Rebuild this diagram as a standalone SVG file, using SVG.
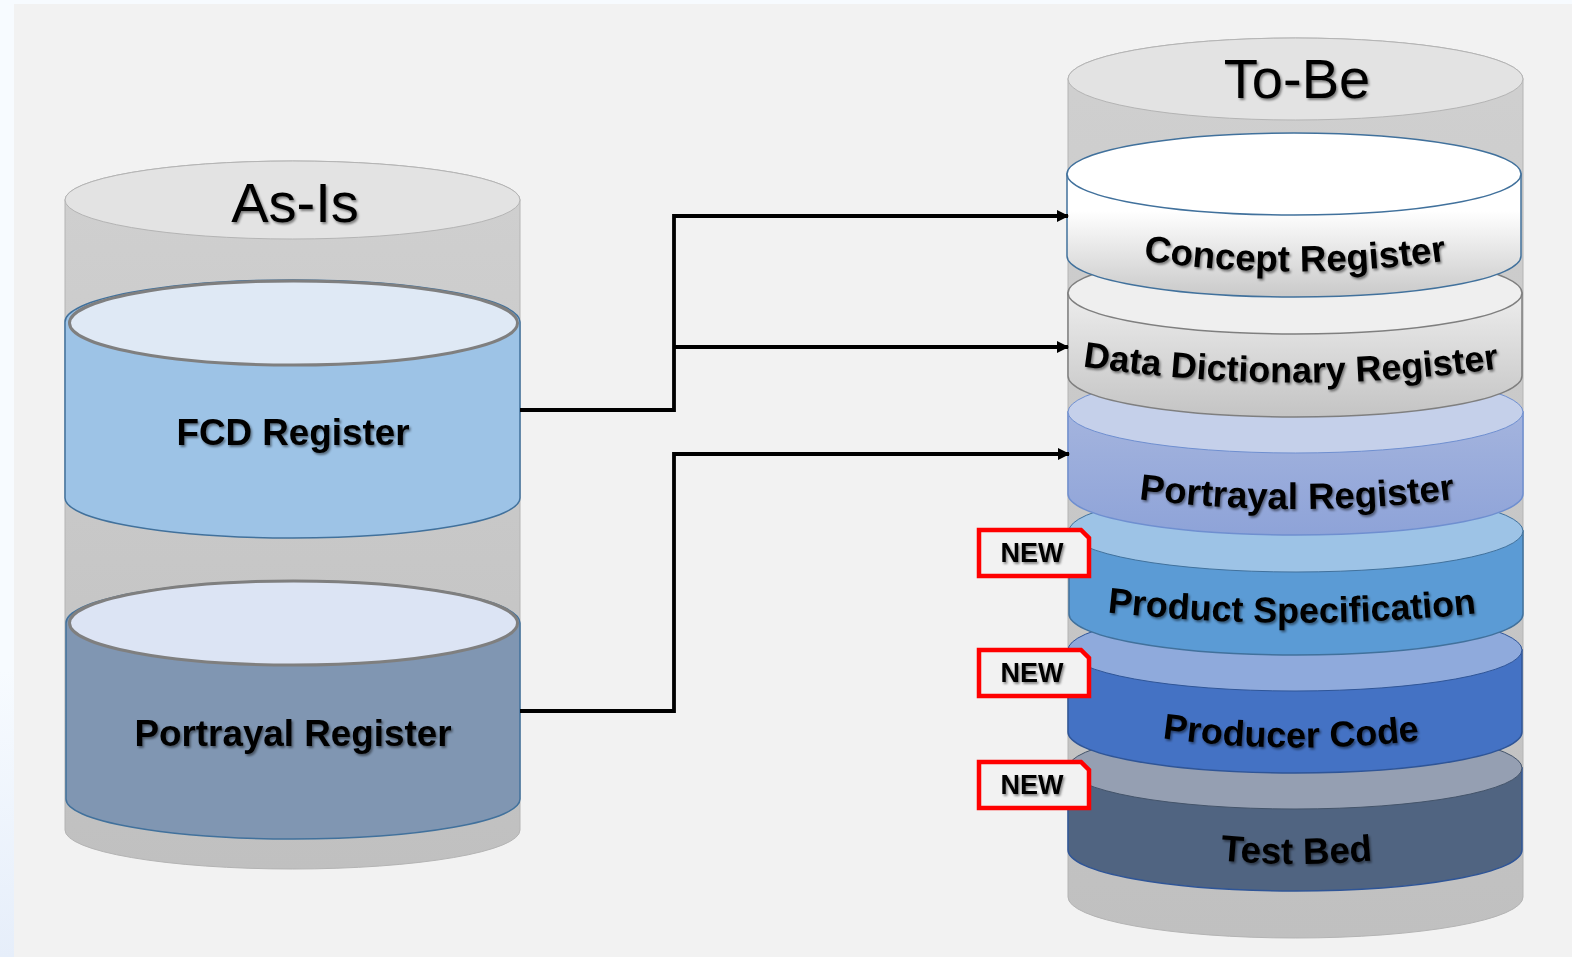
<svg xmlns="http://www.w3.org/2000/svg" width="1572" height="957" viewBox="0 0 1572 957">
<style>
.t{font-family:"Liberation Sans",Arial,sans-serif;fill:#000}
.lab{font-size:36.800px;font-weight:700;text-anchor:middle;filter:url(#sh)}
.lab2{font-size:36px}
.title{font-size:56px;text-anchor:middle;filter:url(#sh)}
.new{font-size:27px;font-weight:700;text-anchor:middle;filter:url(#sh)}
.tag{fill:#f2f2f2;stroke:#f00;stroke-width:4.5}
.outer{fill:url(#go);stroke:#b4b4b4;stroke-width:1}
.conn{fill:none;stroke:#000;stroke-width:3.8}
</style>
<defs>
<linearGradient id="bg" x1="0" y1="0" x2="0" y2="1"><stop offset="0.7" stop-color="#f7fbff"/><stop offset="1" stop-color="#e6eefa"/></linearGradient>
<linearGradient id="go" x1="0" y1="0" x2="0" y2="1"><stop offset="0" stop-color="#d0d0d0"/><stop offset="1" stop-color="#c0c0c0"/></linearGradient>
<linearGradient id="g1" x1="0" y1="0" x2="0" y2="1"><stop offset="0.3" stop-color="#fff"/><stop offset="1" stop-color="#c9c9c9"/></linearGradient>
<linearGradient id="g2" x1="0" y1="0" x2="0" y2="1"><stop offset="0" stop-color="#ededed"/><stop offset="1" stop-color="#c4c4c4"/></linearGradient>
<linearGradient id="g3" x1="0" y1="0" x2="0" y2="1"><stop offset="0" stop-color="#a4b4de"/><stop offset="1" stop-color="#8ea3d8"/></linearGradient>
<filter id="sh" x="-10%" y="-20%" width="120%" height="150%"><feDropShadow dx="1.500" dy="2" stdDeviation="1.200" flood-color="#000" flood-opacity="0.45"/></filter>
<marker id="ah" markerWidth="12" markerHeight="12" refX="11" refY="6" orient="auto" markerUnits="userSpaceOnUse"><path d="M0 0L12 6L0 12z" fill="#000"/></marker>
<path id="p1" d="M1140 260Q1296 283 1450 260"/>
<path id="p2" d="M1080 366Q1295 398 1502 368"/>
<path id="p3" d="M1138 499Q1296 519 1456 499"/>
<path id="p4" d="M1104 612Q1292 633 1480 613"/>
<path id="p5" d="M1160 738Q1291 756 1422 740"/>
<path id="p6" d="M1215 860Q1297 868 1378 860"/>
</defs>
<rect width="1572" height="957" fill="url(#bg)"/>
<rect x="14" y="4" width="1558" height="953" fill="#f2f2f2"/>
<g id="as-is">
<path class="outer" d="M65 200A227.500 39 0 0 1 520 200V830A227.500 39 0 0 1 65 830Z"/>
<ellipse cx="292.500" cy="200" rx="227.500" ry="39" fill="#e3e3e3" stroke="#b4b4b4"/>
<text class="t title" x="295" y="222">As-Is</text>
</g>
<g id="to-be">
<path class="outer" d="M1068 79A227.500 41 0 0 1 1523 79V897A227.500 41 0 0 1 1068 897Z"/>
<ellipse cx="1295.500" cy="79" rx="227.500" ry="41" fill="#e3e3e3" stroke="#b4b4b4"/>
<text class="t title" x="1297" y="98">To-Be</text>
</g>
<g id="fcd-register">
<path d="M65 322V498A227.500 40 0 0 0 520 498V322A227.500 42 0 0 0 65 322Z" fill="#9dc3e6" stroke="#41719c" stroke-width="1.500"/>
<ellipse cx="293.500" cy="323" rx="224" ry="42" fill="#dfe9f5" stroke="#7f7f7f" stroke-width="3"/>
<text class="t lab" x="293" y="445">FCD Register</text>
</g>
<g id="portrayal-register-as-is">
<path d="M66 623V799A227 40 0 0 0 520 799V623A227 42 0 0 0 66 623Z" fill="#8096b2" stroke="#41719c" stroke-width="1.500"/>
<ellipse cx="293.500" cy="623" rx="224" ry="42" fill="#dce4f4" stroke="#7f7f7f" stroke-width="3"/>
<text class="t lab" x="293" y="746">Portrayal Register</text>
</g>
<g id="test-bed">
<path d="M1068 768V850A227 41 0 0 0 1522 850V768Z" fill="#506481" stroke="#2f5597" stroke-width="1.500"/>
<ellipse cx="1295" cy="768" rx="227" ry="41" fill="#959fb2" stroke="#44546a" stroke-width="1"/>
<text class="t lab"><textPath href="#p6" startOffset="50%">Test Bed</textPath></text>
</g>
<g id="producer-code">
<path d="M1068 650V732A227 41 0 0 0 1522 732V650Z" fill="#4472c4" stroke="#2f5597" stroke-width="1.500"/>
<ellipse cx="1295" cy="650" rx="227" ry="41" fill="#8faadc" stroke="#2f5597" stroke-width="1"/>
<text class="t lab lab2"><textPath href="#p5" startOffset="50%">Producer Code</textPath></text>
</g>
<g id="product-specification">
<path d="M1069 531V614A227 41 0 0 0 1523 614V531Z" fill="#5b9bd5" stroke="#41719c" stroke-width="1.500"/>
<ellipse cx="1296" cy="531" rx="227" ry="41" fill="#9dc3e6" stroke="#41719c" stroke-width="1"/>
<text class="t lab lab2"><textPath href="#p4" startOffset="50%">Product Specification</textPath></text>
</g>
<g id="portrayal-register-to-be">
<path d="M1068 412V494A227.500 41 0 0 0 1523 494V412Z" fill="url(#g3)" stroke="#6f8fd0" stroke-width="1.500"/>
<ellipse cx="1295.500" cy="412" rx="227.500" ry="41" fill="#c5d0ea" stroke="#6f8fd0" stroke-width="1"/>
<text class="t lab"><textPath href="#p3" startOffset="50%">Portrayal Register</textPath></text>
</g>
<g id="data-dictionary-register">
<path d="M1068 293V376A227 41 0 0 0 1522 376V293Z" fill="url(#g2)" stroke="#7f7f7f" stroke-width="1.500"/>
<ellipse cx="1295" cy="293" rx="227" ry="41" fill="#efefef" stroke="#7f7f7f" stroke-width="1.500"/>
<text class="t lab lab2"><textPath href="#p2" startOffset="50%">Data Dictionary Register</textPath></text>
</g>
<g id="concept-register">
<path d="M1067 174V256A227 41 0 0 0 1521 256V174Z" fill="url(#g1)" stroke="#41719c" stroke-width="1.500"/>
<ellipse cx="1294" cy="174" rx="227" ry="41" fill="#fff" stroke="#41719c" stroke-width="1.500"/>
<text class="t lab"><textPath href="#p1" startOffset="50%">Concept Register</textPath></text>
</g>
<g id="connectors">
<path class="conn" marker-end="url(#ah)" d="M520 410H674V216H1068"/>
<path class="conn" marker-end="url(#ah)" d="M674 347H1068"/>
<path class="conn" marker-end="url(#ah)" d="M520 711H674V454H1069"/>
</g>
<g id="new-1"><path class="tag" d="M979 530H1081L1089 538V576H979Z"/><text class="t new" x="1032" y="562">NEW</text></g>
<g id="new-2"><path class="tag" d="M979 650H1081L1089 658V696H979Z"/><text class="t new" x="1032" y="682">NEW</text></g>
<g id="new-3"><path class="tag" d="M979 762H1081L1089 770V808H979Z"/><text class="t new" x="1032" y="794">NEW</text></g>
</svg>
